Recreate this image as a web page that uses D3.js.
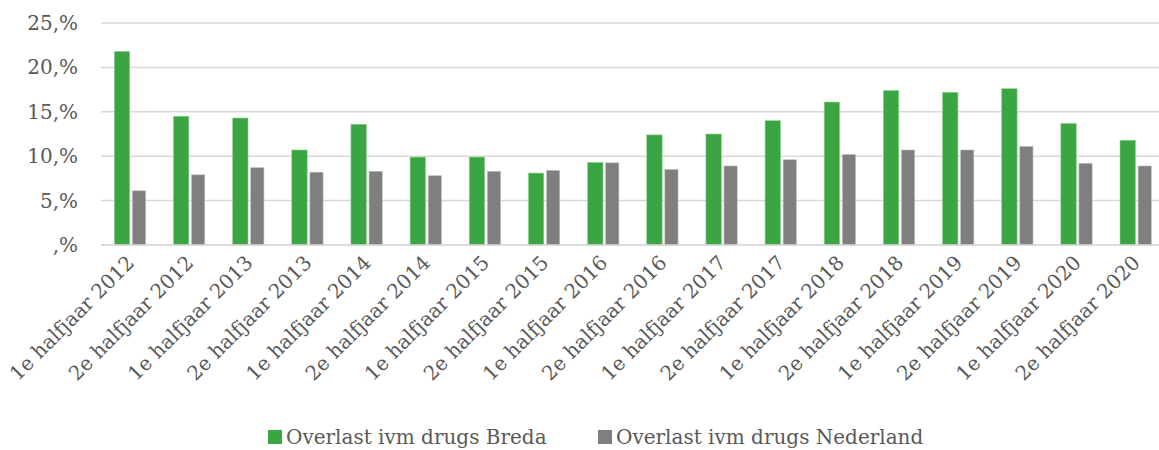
<!DOCTYPE html>
<html><head><meta charset="utf-8">
<script src="https://cdn.jsdelivr.net/npm/d3@7"></script>
<style>
html,body{margin:0;padding:0;background:#fff;}
svg text{font-family:"DejaVu Serif",serif;fill:#595959;}
</style></head>
<body><svg id="c" width="1159" height="450"></svg>
<script>
const categories = ["1e halfjaar 2012","2e halfjaar 2012","1e halfjaar 2013","2e halfjaar 2013","1e halfjaar 2014","2e halfjaar 2014","1e halfjaar 2015","2e halfjaar 2015","1e halfjaar 2016","2e halfjaar 2016","1e halfjaar 2017","2e halfjaar 2017","1e halfjaar 2018","2e halfjaar 2018","1e halfjaar 2019","2e halfjaar 2019","1e halfjaar 2020","2e halfjaar 2020"];
const breda = [21.8,14.5,14.3,10.7,13.6,9.9,9.9,8.1,9.3,12.4,12.5,14.0,16.1,17.4,17.2,17.6,13.7,11.8];
const nederland = [6.1,7.9,8.7,8.2,8.3,7.8,8.3,8.4,9.25,8.5,8.9,9.6,10.2,10.7,10.7,11.1,9.2,8.9];
const seriesNames = ["Overlast ivm drugs Breda","Overlast ivm drugs Nederland"];
const yTicks = [0,5,10,15,20,25];
const yTickLabels = [",%","5,%","10,%","15,%","20,%","25,%"];
const colors = ["#3ca543","#7f7f7f"];

const svg = d3.select("#c");
const x = d3.scaleBand().domain(categories).range([101, 101 + 18*59.16]).padding(0);
const y = d3.scaleLinear().domain([0,25]).range([245,23]);

// gridlines
svg.append("g").selectAll("line").data(yTicks).join("line")
  .attr("x1",101).attr("x2",1159)
  .attr("y1",d=>y(d)).attr("y2",d=>y(d))
  .attr("stroke","#d9d9d9").attr("stroke-width",1.5);

// y labels
svg.append("g").selectAll("text").data(yTicks).join("text")
  .attr("x",78).attr("y",d=>y(d)).attr("dy","0.35em")
  .attr("text-anchor","end").style("font-size","20px")
  .text((d,i)=>yTickLabels[i]);

// bars
const series = [breda, nederland];
const offs = [13.3, 31.4];
const widths = [15.4, 13.2];
series.forEach((vals,si)=>{
  svg.append("g").selectAll("rect").data(vals).join("rect")
    .attr("x",(d,i)=>x(categories[i])+offs[si])
    .attr("width",widths[si])
    .attr("y",d=>y(d))
    .attr("height",d=>y(0)-y(d))
    .attr("fill",colors[si])
    .attr("stroke", si===0 ? "#8fd38f" : "#bdbdbd")
    .attr("stroke-width",0.6);
});

// baseline
svg.append("line").attr("x1",101).attr("x2",1159).attr("y1",y(0)).attr("y2",y(0))
  .attr("stroke","#d9d9d9").attr("stroke-width",1.5);

// x labels
svg.append("g").selectAll("text").data(categories).join("text")
  .attr("transform",d=>`translate(${x(d)+x.bandwidth()/2+5},${264}) rotate(-45)`)
  .attr("text-anchor","end").style("font-size","20px")
  .text(d=>d);

// legend
const legX = [268, 598];
const leg = svg.append("g");
seriesNames.forEach((n,i)=>{
  leg.append("rect").attr("x",legX[i]).attr("y",430).attr("width",14).attr("height",14).attr("fill",colors[i]);
  leg.append("text").attr("x",legX[i]+18).attr("y",437).attr("dy","0.35em").style("font-size","20px").text(n);
});
</script></body></html>
